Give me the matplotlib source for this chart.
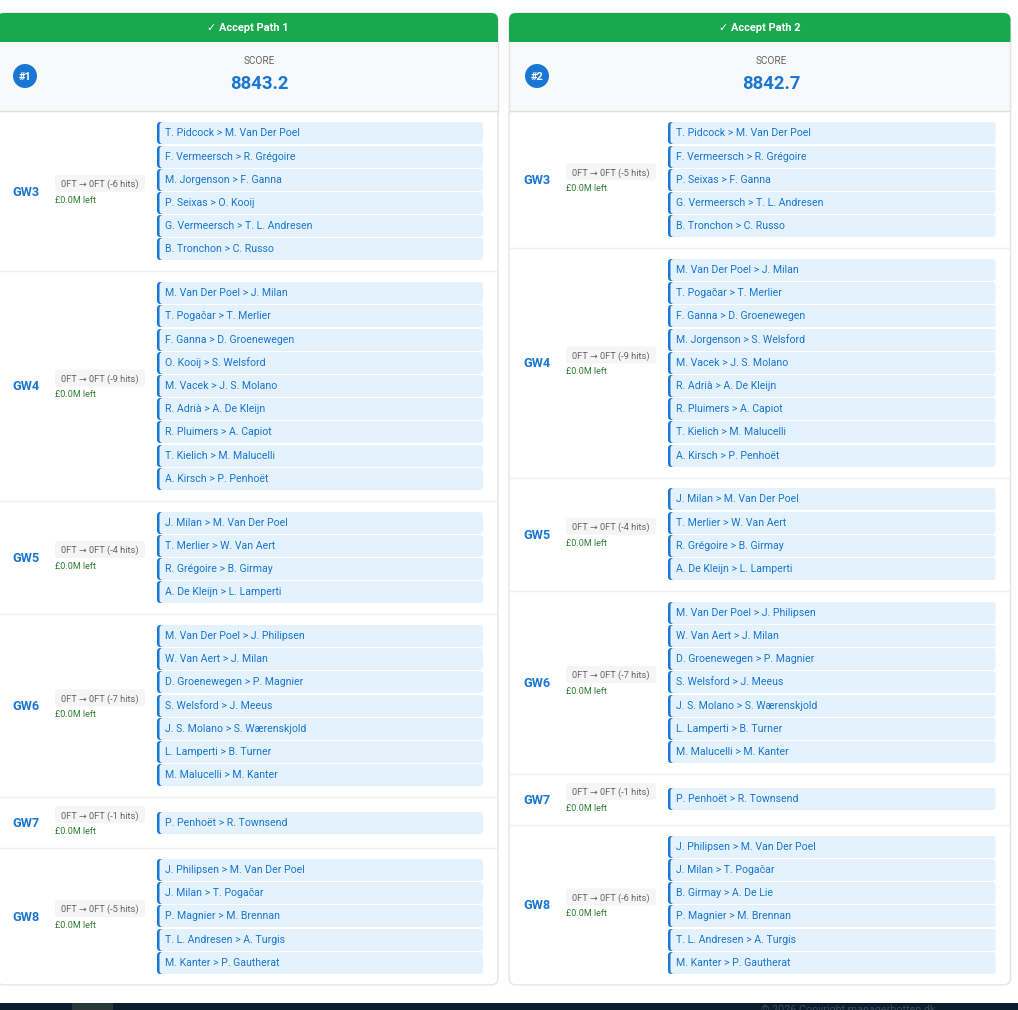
import matplotlib
matplotlib.use("Agg")
import matplotlib.pyplot as plt
from matplotlib.patches import FancyBboxPatch, Rectangle, Circle

plt.rcParams['font.family'] = ['Roboto', 'DejaVu Sans']

# ---------- data ----------
path_titles = ["Accept Path 1", "Accept Path 2"]
path_ranks = ["#1", "#2"]
path_scores = [8843.2, 8842.7]
gameweeks = ["GW3", "GW4", "GW5", "GW6", "GW7", "GW8"]
path1_hits = [6, 9, 4, 7, 1, 5]
path2_hits = [5, 9, 4, 7, 1, 6]
path1_transfers = [
    ["T. Pidcock > M. Van Der Poel", "F. Vermeersch > R. Grégoire", "M. Jorgenson > F. Ganna",
     "P. Seixas > O. Kooij", "G. Vermeersch > T. L. Andresen", "B. Tronchon > C. Russo"],
    ["M. Van Der Poel > J. Milan", "T. Pogačar > T. Merlier", "F. Ganna > D. Groenewegen",
     "O. Kooij > S. Welsford", "M. Vacek > J. S. Molano", "R. Adrià > A. De Kleijn",
     "R. Pluimers > A. Capiot", "T. Kielich > M. Malucelli", "A. Kirsch > P. Penhoët"],
    ["J. Milan > M. Van Der Poel", "T. Merlier > W. Van Aert", "R. Grégoire > B. Girmay",
     "A. De Kleijn > L. Lamperti"],
    ["M. Van Der Poel > J. Philipsen", "W. Van Aert > J. Milan", "D. Groenewegen > P. Magnier",
     "S. Welsford > J. Meeus", "J. S. Molano > S. Wærenskjold", "L. Lamperti > B. Turner",
     "M. Malucelli > M. Kanter"],
    ["P. Penhoët > R. Townsend"],
    ["J. Philipsen > M. Van Der Poel", "J. Milan > T. Pogačar", "P. Magnier > M. Brennan",
     "T. L. Andresen > A. Turgis", "M. Kanter > P. Gautherat"],
]
path2_transfers = [
    ["T. Pidcock > M. Van Der Poel", "F. Vermeersch > R. Grégoire", "P. Seixas > F. Ganna",
     "G. Vermeersch > T. L. Andresen", "B. Tronchon > C. Russo"],
    ["M. Van Der Poel > J. Milan", "T. Pogačar > T. Merlier", "F. Ganna > D. Groenewegen",
     "M. Jorgenson > S. Welsford", "M. Vacek > J. S. Molano", "R. Adrià > A. De Kleijn",
     "R. Pluimers > A. Capiot", "T. Kielich > M. Malucelli", "A. Kirsch > P. Penhoët"],
    ["J. Milan > M. Van Der Poel", "T. Merlier > W. Van Aert", "R. Grégoire > B. Girmay",
     "A. De Kleijn > L. Lamperti"],
    ["M. Van Der Poel > J. Philipsen", "W. Van Aert > J. Milan", "D. Groenewegen > P. Magnier",
     "S. Welsford > J. Meeus", "J. S. Molano > S. Wærenskjold", "L. Lamperti > B. Turner",
     "M. Malucelli > M. Kanter"],
    ["P. Penhoët > R. Townsend"],
    ["J. Philipsen > M. Van Der Poel", "J. Milan > T. Pogačar", "B. Girmay > A. De Lie",
     "P. Magnier > M. Brennan", "T. L. Andresen > A. Turgis", "M. Kanter > P. Gautherat"],
]
footer_text = "© 2026 Copyright managerbotten.dk"

# ---------- styles ----------
W, H = 1018, 1010
GREEN = "#18a84e"
BLUE = "#1976d2"
LIGHT = "#e3f2fd"
HEADBG = "#f8f9fa"
BORDER = "#e2e5e8"
SEP = "#eeeeee"
px = 0.72  # css px -> pt at dpi 100

fig = plt.figure(figsize=(W / 100, H / 100), dpi=100, facecolor="white")
ax = fig.add_axes([0, 0, 1, 1])
ax.set_xlim(0, W)
ax.set_ylim(H, 0)
ax.axis("off")


def rbox(x0, y0, x1, y1, r, fc, ec="none", lw=0, z=1):
    p = FancyBboxPatch((x0 + r, y0 + r), x1 - x0 - 2 * r, y1 - y0 - 2 * r,
                       boxstyle=f"round,pad={r},rounding_size={r}",
                       fc=fc, ec=ec, lw=lw, zorder=z, mutation_aspect=1)
    ax.add_patch(p)


def draw_card(x0, x1, gx, pill_x, item_x, bx, title, rank, score, hits, transfers):
    top, head_bottom = 13, 42
    band_bottom = 111.5
    pitch, pad, min_h = 23.19, 20.7, 51
    heights = [max(min_h, pitch * len(t) + pad) for t in transfers]
    bottom = band_bottom + sum(heights)
    rbox(x0, top, x1, bottom, 7, "white", BORDER, 1, 1)
    rbox(x0, top, x1, head_bottom + 10, 7, GREEN, z=2)
    ax.add_patch(Rectangle((x0 - 1, head_bottom), x1 - x0 + 2, band_bottom - head_bottom,
                           fc=HEADBG, ec="none", zorder=3))
    ax.plot([x0, x0], [head_bottom, band_bottom], color=BORDER, lw=1, zorder=4)
    ax.plot([x1, x1], [head_bottom, band_bottom], color=BORDER, lw=1, zorder=4)
    ax.plot([x0 + .5, x1 - .5], [111, 111], color="#e0e0e0", lw=1, zorder=4)
    mid = (x0 + x1) / 2
    score_x = mid + 12
    ax.text(mid, 31, "✓ " + title, color="white", fontsize=11 * px, fontweight="bold",
            ha="center", va="baseline", zorder=5)
    ax.text(score_x, 64, "SCORE", color="#666666", fontsize=10 * px, ha="center", va="baseline", zorder=5)
    ax.text(score_x, 89, f"{score:.1f}", color=BLUE, fontsize=18.5 * px, fontweight="bold",
            ha="center", va="baseline", zorder=5)
    ax.add_patch(Circle((bx, 76), 12, fc=BLUE, ec="none", zorder=5))
    ax.text(bx, 79.5, rank, color="white", fontsize=11 * px, fontweight="bold",
            ha="center", va="baseline", zorder=6)

    item_r = x1 - 15
    y = band_bottom
    for i, (gw, hit, items) in enumerate(zip(gameweeks, hits, transfers)):
        h = heights[i]
        c = y + h / 2
        ax.text(gx, c + 4.3, gw, color=BLUE, fontsize=12.7 * px, fontweight="bold",
                ha="left", va="baseline", zorder=5)
        rbox(pill_x, c - 16.5, pill_x + 90, c + 0.5, 3, "#f5f5f5", z=4)
        ax.text(pill_x + 44.5, c - 4.2, f"0FT → 0FT (-{hit} hits)", color="#666666",
                fontsize=9.3 * px, ha="center", va="baseline", zorder=5)
        ax.text(pill_x, c + 11.3, "£0.0M left", color="#2e7d32", fontsize=9 * px,
                ha="left", va="baseline", zorder=5)
        first = c - len(items) * pitch / 2 + 0.5
        for k, t in enumerate(items):
            ity = round(first + k * pitch)
            rbox(item_x, ity, item_x + 9, ity + 22, 3.5, BLUE, z=4)
            rbox(item_x + 2.5, ity, item_r, ity + 22, 3.5, LIGHT, z=4.5)
            ax.text(item_x + 8, ity + 14.3, t, color=BLUE, fontsize=10.55 * px,
                    ha="left", va="baseline", zorder=5)
        y += h
        if i < len(gameweeks) - 1:
            ax.plot([x0 + .5, x1 - .5], [y, y], color=SEP, lw=1, zorder=3)


draw_card(-3, 498, 12, 55, 157, 25, path_titles[0], path_ranks[0], path_scores[0], path1_hits, path1_transfers)
draw_card(509, 1010.5, 523.5, 566, 668, 537, path_titles[1], path_ranks[1], path_scores[1], path2_hits, path2_transfers)

# page footer, cut off by the bottom edge as in the reference
ax.add_patch(Rectangle((0, 1003), W, 8, fc="#0a1e30", ec="none", zorder=6))
ax.add_patch(Rectangle((72, 1003), 41, 8, fc="#2a3838", ec="none", zorder=7))
ax.text(848.5, 1013, footer_text, color="#3d4c5a", fontsize=10.7 * px, ha="center", va="baseline",
        zorder=7, clip_on=True)

fig.savefig("out.png", dpi=100, facecolor="white")
